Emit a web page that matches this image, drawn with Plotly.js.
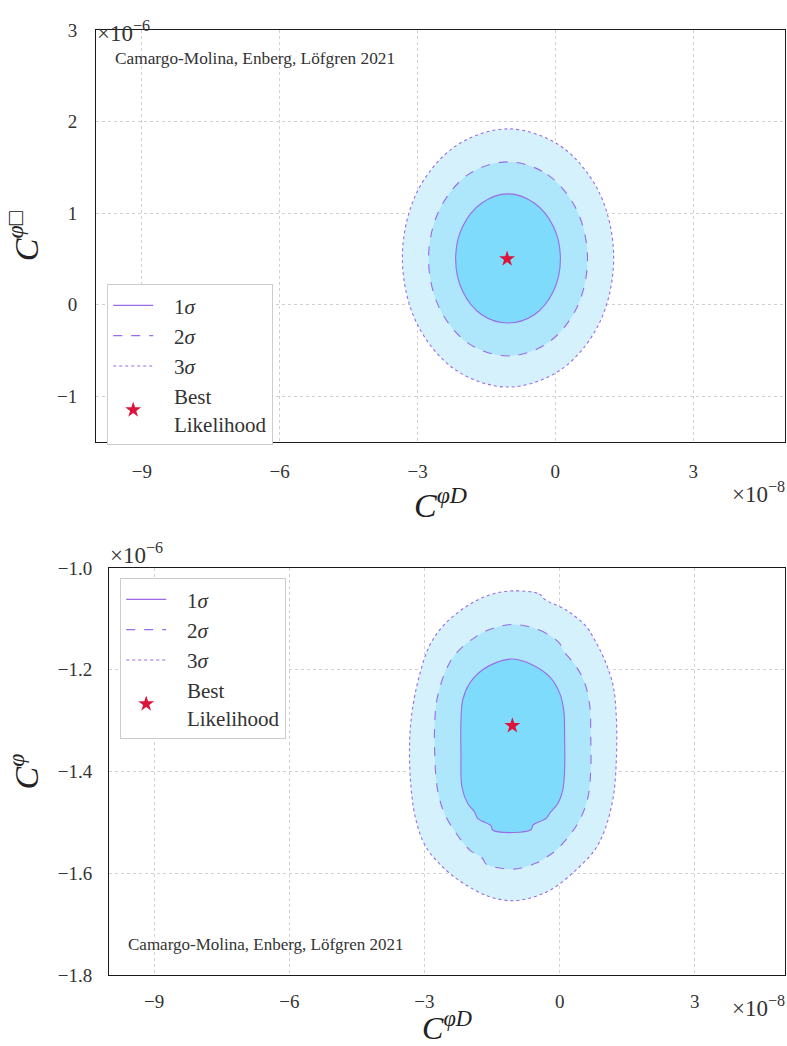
<!DOCTYPE html>
<html><head><meta charset="utf-8">
<script src="https://cdn.plot.ly/plotly-3.0.1.min.js"></script>
<style>html,body{margin:0;padding:0;background:#fff}</style>
</head><body><div id="chart" style="width:787px;height:1046px"></div>
<script>
// Units: x in 1e-8, y in 1e-6
// Top panel contours (C^{phi D} vs C^{phi box})
const top1x = [-1.03,-0.46,-0.04,0.11,-0.04,-0.46,-1.03,-1.60,-2.02,-2.17,-2.02,-1.60,-1.03];
const top1y = [1.21,1.11,0.85,0.50,0.15,-0.11,-0.20,-0.11,0.15,0.50,0.85,1.11,1.21];
const top2x = [-1.03,-0.17,0.47,0.70,0.47,-0.17,-1.03,-1.90,-2.53,-2.76,-2.53,-1.90,-1.03];
const top2y = [1.56,1.42,1.03,0.50,-0.03,-0.42,-0.56,-0.42,-0.03,0.50,1.03,1.42,1.56];
const top3x = [-1.03,0.12,0.96,1.27,0.96,0.12,-1.03,-2.18,-3.02,-3.33,-3.02,-2.18,-1.03];
const top3y = [1.92,1.73,1.22,0.51,-0.20,-0.71,-0.90,-0.71,-0.20,0.51,1.22,1.73,1.92];
const topBestX = [-1.05];
const topBestY = [0.50];

// Bottom panel contours (C^{phi D} vs C^{phi})
const bot1x = [-1.04,-0.59,-0.22,0.00,0.09,0.11,0.11,0.07,-0.04,-0.22,-0.30,-0.59,-0.63,-1.04,-1.49,-1.52,-1.82,-1.89,-2.04,-2.17,-2.19,-2.19,-2.15,-2.00,-1.71,-1.41,-1.04];
const bot1y = [-1.179,-1.191,-1.214,-1.246,-1.279,-1.332,-1.397,-1.436,-1.463,-1.482,-1.492,-1.505,-1.514,-1.520,-1.515,-1.507,-1.492,-1.479,-1.463,-1.430,-1.364,-1.299,-1.259,-1.227,-1.200,-1.186,-1.179];
const bot2x = [-1.04,-0.45,0.00,0.07,0.37,0.56,0.67,0.69,0.69,0.63,0.48,0.26,-0.07,-0.22,-0.52,-1.04,-1.63,-1.71,-2.00,-2.30,-2.56,-2.71,-2.77,-2.77,-2.71,-2.52,-2.30,-1.86,-1.49,-1.04];
const bot2y = [-1.111,-1.122,-1.148,-1.161,-1.194,-1.227,-1.273,-1.332,-1.397,-1.450,-1.489,-1.521,-1.554,-1.564,-1.580,-1.592,-1.582,-1.571,-1.554,-1.521,-1.482,-1.436,-1.371,-1.299,-1.253,-1.200,-1.168,-1.135,-1.119,-1.111];
const bot3x = [-1.04,-0.45,-0.33,0.15,0.59,0.78,1.00,1.19,1.26,1.26,1.19,1.00,0.78,0.37,-0.15,-0.59,-1.04,-1.56,-2.08,-2.52,-2.97,-3.19,-3.30,-3.33,-3.27,-3.12,-2.90,-2.60,-2.08,-1.56,-1.04];
const bot3y = [-1.045,-1.051,-1.062,-1.083,-1.115,-1.142,-1.181,-1.233,-1.299,-1.371,-1.450,-1.515,-1.554,-1.593,-1.630,-1.647,-1.654,-1.646,-1.623,-1.594,-1.548,-1.495,-1.430,-1.345,-1.279,-1.214,-1.155,-1.115,-1.076,-1.053,-1.045];
const botBestX = [-1.05];
const botBestY = [-1.31];

const xTicks = [-9,-6,-3,0,3];
const yTopTicks = [-1,0,1,2,3];
const yBotTicks = [-1.8,-1.6,-1.4,-1.2,-1.0];
const pad = '\u00a0\u00a0\u00a0';
const sigmaNames = [pad + '1<i>σ</i>', pad + '2<i>σ</i>', pad + '3<i>σ</i>'];
const bestName = pad + 'Best<br>' + pad + 'Likelihood';
const credit = 'Camargo-Molina, Enberg, Löfgren 2021';
const xTitle = '<i>C</i><sup><i>φD</i></sup>';
const yTopTitle = '<i>C</i><sup><i>φ</i>□</sup>';
const yBotTitle = '<i>C</i><sup><i>φ</i></sup>';

const FONT = "'Liberation Serif', 'DejaVu Serif', serif";
const fillCols = ['#7fdbfc','#aee7fb','#d5f2fc'];
const lineCol = '#9a6ae8';
const dashes = ['solid','dash','dot'];

function panel(xs, ys, bx, by, xa, ya, leg) {
  const tr = [];
  for (let i = 2; i >= 0; i--) {
    tr.push({x: xs[i], y: ys[i], xaxis: xa, yaxis: ya, type: 'scatter', mode: 'lines',
      line: {width: 0, shape: 'spline', smoothing: 1, color: fillCols[i]},
      fill: 'toself', fillcolor: fillCols[i], showlegend: false, hoverinfo: 'skip'});
  }
  for (let i = 0; i < 3; i++) {
    tr.push({x: xs[i], y: ys[i], xaxis: xa, yaxis: ya, type: 'scatter', mode: 'lines',
      name: sigmaNames[i], legend: leg, legendgroup: leg + 'g' + i, legendrank: i + 1,
      line: {width: 1.1, shape: 'spline', smoothing: 1, color: lineCol, dash: dashes[i]}});
  }
  tr.push({x: bx, y: by, xaxis: xa, yaxis: ya, type: 'scatter', mode: 'markers',
    name: bestName, legend: leg, legendgroup: leg + 'g3', legendrank: 4,
    marker: {symbol: 'star', size: 12, color: '#dc143c', line: {width: 0}}});
  return tr;
}

const data = [].concat(
  panel([top1x, top2x, top3x], [top1y, top2y, top3y], topBestX, topBestY, 'x', 'y', 'legend'),
  panel([bot1x, bot2x, bot3x], [bot1y, bot2y, bot3y], botBestX, botBestY, 'x2', 'y2', 'legend2')
);

const W = 787, H = 1046;
const px = v => v / W, py = v => 1 - v / H;
const titleFont = {family: FONT, size: 34, color: '#222'};
const titleFontB = {family: FONT, size: 32, color: '#222'};

function axisBase() {
  return {showgrid: true, gridcolor: '#d2d2d2', griddash: 'dot', gridwidth: 1,
    zeroline: false, showline: true, mirror: true, linecolor: '#1a1a1a', linewidth: 1,
    ticks: '', tickfont: {family: FONT, size: 19, color: '#333'}, fixedrange: true, automargin: true};
}

const legFont = {family: FONT, size: 21, color: '#333'};

const layout = {
  width: W, height: H, margin: {l: 0, r: 0, t: 0, b: 0, autoexpand: false},
  paper_bgcolor: '#fff', plot_bgcolor: '#fff', showlegend: true,
  font: {family: FONT, color: '#333'},
  xaxis: Object.assign(axisBase(), {domain: [px(96), px(785)], range: [-10, 5], tickvals: xTicks, anchor: 'y', ticklabelstandoff: 12,
    title: {text: xTitle, font: titleFont, standoff: 0}}),
  yaxis: Object.assign(axisBase(), {domain: [py(442), py(30)], range: [-1.5, 3], tickvals: yTopTicks, anchor: 'x', ticklabelstandoff: 14,
    title: {text: yTopTitle, font: titleFont, standoff: 8}}),
  xaxis2: Object.assign(axisBase(), {domain: [px(109), px(785)], range: [-10, 5], tickvals: xTicks, anchor: 'y2', ticklabelstandoff: 9,
    title: {text: xTitle, font: titleFontB, standoff: 6}}),
  yaxis2: Object.assign(axisBase(), {domain: [py(975), py(568)], range: [-1.8, -1.0], tickvals: yBotTicks, tickformat: '.1f', anchor: 'x2', ticklabelstandoff: 12,
    title: {text: yBotTitle, font: titleFont, standoff: 8}}),
  legend: {x: px(107), y: py(284), xanchor: 'left', yanchor: 'top', bgcolor: '#fff',
    bordercolor: '#cccccc', borderwidth: 1.2, font: legFont, itemwidth: 40, tracegroupgap: 0},
  legend2: {x: px(120), y: py(578), xanchor: 'left', yanchor: 'top', bgcolor: '#fff',
    bordercolor: '#cccccc', borderwidth: 1.2, font: legFont, itemwidth: 40, tracegroupgap: 0},
  annotations: [
    {text: '×10<sup>−6</sup>', xref: 'paper', yref: 'paper', x: px(95), y: py(15), xanchor: 'left', showarrow: false, font: {family: FONT, size: 23, color: '#333'}},
    {text: '×10<sup>−6</sup>', xref: 'paper', yref: 'paper', x: px(108), y: py(553), xanchor: 'left', showarrow: false, font: {family: FONT, size: 23, color: '#333'}},
    {text: '×10<sup>−8</sup>', xref: 'paper', yref: 'paper', x: px(787), y: py(492), xanchor: 'right', showarrow: false, font: {family: FONT, size: 23, color: '#333'}},
    {text: '×10<sup>−8</sup>', xref: 'paper', yref: 'paper', x: px(787), y: py(1023), xanchor: 'right', showarrow: false, font: {family: FONT, size: 23, color: '#333'}},
    {text: credit, xref: 'paper', yref: 'paper', x: px(113), y: py(47), xanchor: 'left', showarrow: false, font: {family: FONT, size: 17.3, color: '#333'}},
    {text: credit, xref: 'paper', yref: 'paper', x: px(126), y: py(956), xanchor: 'left', showarrow: false, font: {family: FONT, size: 17, color: '#333'}}
  ]
};

Plotly.newPlot('chart', data, layout, {displayModeBar: false, staticPlot: true});
</script></body></html>
